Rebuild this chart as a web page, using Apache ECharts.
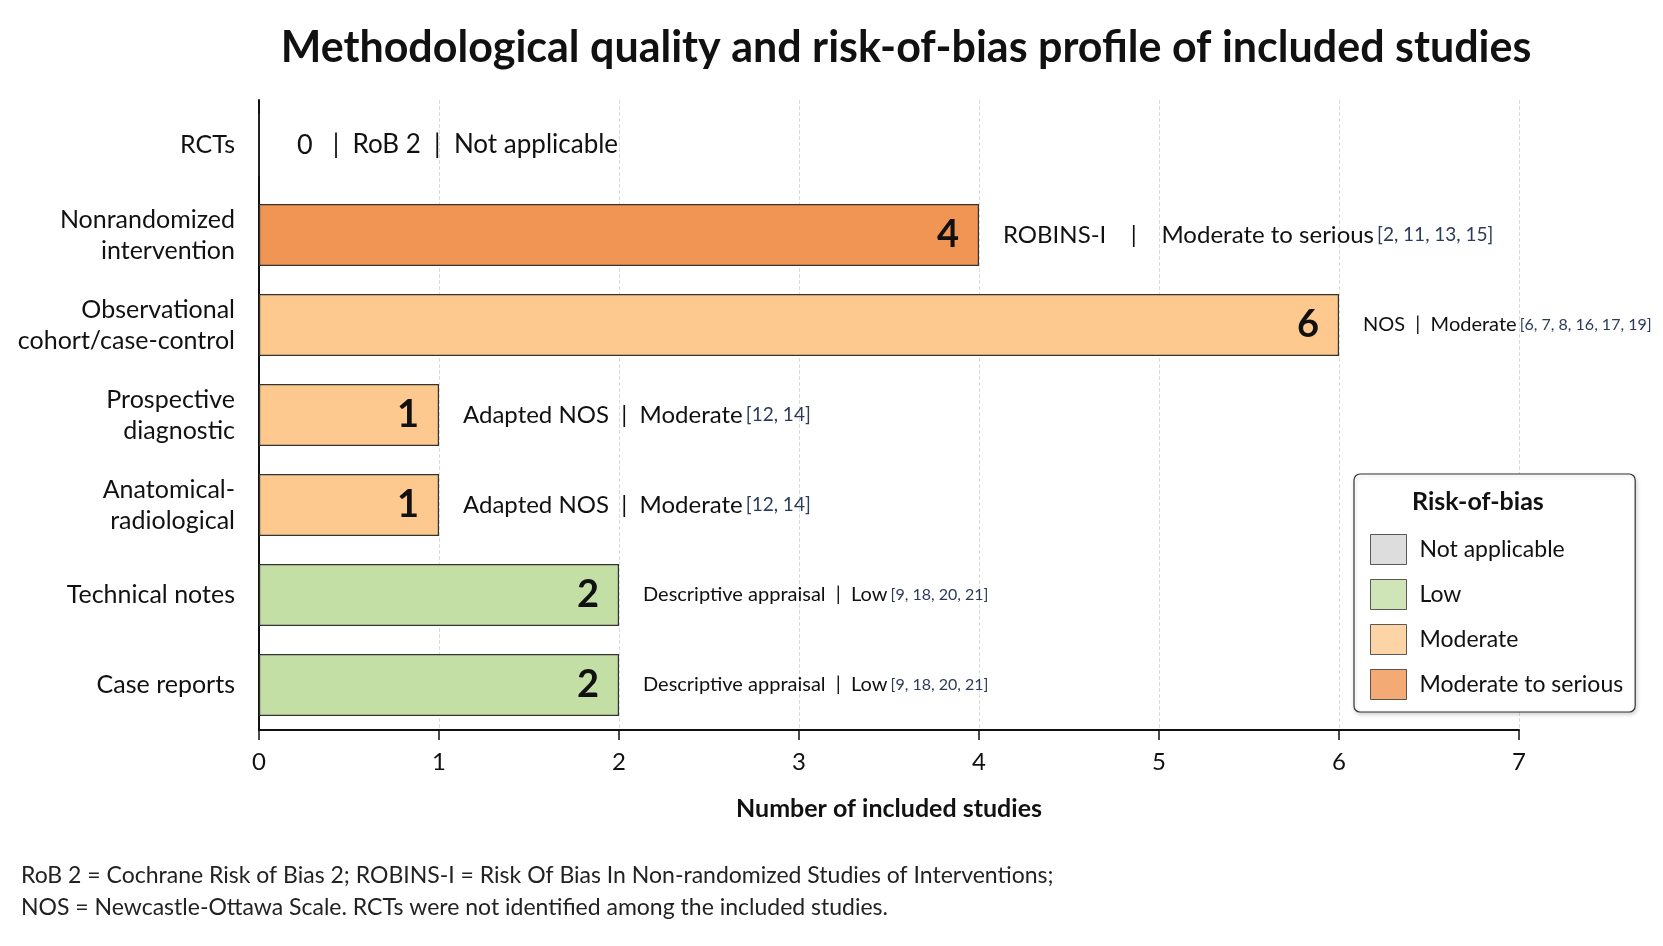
<!DOCTYPE html>
<html>
<head>
    <meta charset="UTF-8">
    <title>Risk-of-bias profile</title>
    <style>
        html, body { margin: 0; padding: 0; background: #ffffff; }
        #chart { width: 1663px; height: 946px; }
    </style>
</head>
<body>
    <div id="chart"></div>

    <script src="https://cdn.jsdelivr.net/npm/echarts@6/dist/echarts.min.js"></script>
    <script>
        // study designs, top to bottom
        var designs = ['RCTs', 'Nonrandomized\nintervention', 'Observational\ncohort/case-control',
            'Prospective\ndiagnostic', 'Anatomical-\nradiological', 'Technical notes', 'Case reports'];
        var studyCounts = [0, 4, 6, 1, 1, 2, 2];
        var appraisalTools = ['RoB 2', 'ROBINS-I', 'NOS', 'Adapted NOS', 'Adapted NOS',
            'Descriptive appraisal', 'Descriptive appraisal'];
        var riskOfBias = ['Not applicable', 'Moderate to serious', 'Moderate', 'Moderate', 'Moderate', 'Low', 'Low'];
        var references = ['', '[2, 11, 13, 15]', '[6, 7, 8, 16, 17, 19]', '[12, 14]', '[12, 14]',
            '[9, 18, 20, 21]', '[9, 18, 20, 21]'];
        var riskLevels = ['Not applicable', 'Low', 'Moderate', 'Moderate to serious'];
        var xTicks = [0, 7, 1];   // min, max, interval

        var riskColors = {
            'Not applicable': '#d4d4d4',
            'Low': '#c4dfa5',
            'Moderate': '#fdc98e',
            'Moderate to serious': '#f09553'
        };
        var font = 'Lato, "Open Sans", sans-serif';

        // compact label style for the longer annotations
        function isCompact(i) {
            return appraisalTools[i] === 'NOS' || appraisalTools[i] === 'Descriptive appraisal';
        }

        var barData = studyCounts.map(function (v, i) {
            return {
                value: v,
                itemStyle: { color: riskColors[riskOfBias[i]] },
                label: { show: v > 0 }
            };
        });

        var noteData = studyCounts.map(function (v) {
            return { value: v };
        });

        var legendSeries = riskLevels.map(function (name) {
            return {
                name: name,
                type: 'scatter',
                data: [],
                itemStyle: { color: riskColors[name] }
            };
        });

        var chart = echarts.init(document.getElementById('chart'), null, { renderer: 'canvas' });

        var option = {
            backgroundColor: '#ffffff',
            animation: false,
            textStyle: { fontFamily: font },
            title: {
                text: 'Methodological quality and risk-of-bias profile of included studies',
                left: 901,
                textAlign: 'center',
                top: 22,
                textStyle: { fontFamily: font, fontSize: 43, fontWeight: 'bold', color: '#111' }
            },
            grid: { left: 259, right: 144, top: 100, bottom: 216, containLabel: false },
            xAxis: {
                type: 'value',
                min: xTicks[0],
                max: xTicks[1],
                interval: xTicks[2],
                name: 'Number of included studies',
                nameLocation: 'middle',
                nameGap: 66,
                nameTextStyle: { fontFamily: font, fontSize: 25, fontWeight: 'bold', color: '#111' },
                axisLine: { show: true, lineStyle: { color: '#111', width: 2 } },
                axisTick: { show: true, length: 10, lineStyle: { color: '#111', width: 1.5 } },
                axisLabel: { fontFamily: font, fontSize: 24, color: '#111', margin: 20 },
                splitLine: { show: true, lineStyle: { color: '#dcdcdc', type: 'dashed', width: 1 } }
            },
            yAxis: {
                type: 'category',
                data: designs,
                inverse: true,
                axisLine: { show: true, lineStyle: { color: '#111', width: 2 } },
                axisTick: { show: false },
                axisLabel: { fontFamily: font, fontSize: 25, color: '#111', margin: 24, lineHeight: 31, align: 'right' },
                splitLine: { show: false }
            },
            legend: {
                data: riskLevels,
                orient: 'vertical',
                left: 1354,
                top: 474,
                icon: 'rect',
                itemWidth: 36,
                itemHeight: 30,
                itemGap: 14,
                padding: [60, 12, 12, 16],
                backgroundColor: '#ffffff',
                borderColor: '#333',
                borderWidth: 1.2,
                borderRadius: 6,
                shadowColor: 'rgba(0,0,0,0.18)',
                shadowBlur: 4,
                shadowOffsetX: 1,
                shadowOffsetY: 2,
                selectedMode: false,
                itemStyle: { borderColor: '#333', borderWidth: 1 },
                textStyle: { fontFamily: font, fontSize: 23, color: '#111', padding: [0, 0, 0, 8] }
            },
            series: [
                {
                    name: 'Studies',
                    type: 'bar',
                    data: barData,
                    barWidth: 62,
                    itemStyle: { borderColor: '#333', borderWidth: 1.2 },
                    label: {
                        position: 'insideRight',
                        distance: 20,
                        fontFamily: font,
                        fontSize: 38,
                        fontWeight: 'bold',
                        color: '#111'
                    },
                    z: 3
                },
                {
                    name: 'Notes',
                    type: 'bar',
                    data: noteData,
                    barWidth: 62,
                    barGap: '-100%',
                    itemStyle: { color: 'rgba(0,0,0,0)' },
                    silent: true,
                    label: {
                        show: true,
                        position: 'right',
                        distance: 24,
                        formatter: function (p) {
                            var i = p.dataIndex;
                            if (studyCounts[i] === 0) {
                                return '{n|' + studyCounts[i] + '}{z|   |  ' + appraisalTools[i] + '  |  ' + riskOfBias[i] + '}';
                            }
                            var sep = appraisalTools[i] === 'ROBINS-I' ? '    |    ' : '  |  ';
                            if (isCompact(i)) {
                                return '{ts|' + appraisalTools[i] + sep + riskOfBias[i] + '} {rs|' + references[i] + '}';
                            }
                            return '{t|' + appraisalTools[i] + sep + riskOfBias[i] + '} {r|' + references[i] + '}';
                        },
                        rich: {
                            n: { fontFamily: font, fontSize: 27, color: '#111', padding: [0, 0, 0, 14] },
                            z: { fontFamily: font, fontSize: 26, color: '#111' },
                            t: { fontFamily: font, fontSize: 24, color: '#111' },
                            r: { fontFamily: font, fontSize: 19, color: '#2b3a5c' },
                            ts: { fontFamily: font, fontSize: 20, color: '#111' },
                            rs: { fontFamily: font, fontSize: 16, color: '#2b3a5c' }
                        }
                    },
                    z: 4
                }
            ].concat(legendSeries),
            graphic: [
                {
                    type: 'text',
                    left: 1412,
                    top: 489,
                    z: 100,
                    style: {
                        text: 'Risk-of-bias',
                        fontFamily: font,
                        fontSize: 25,
                        fontWeight: 'bold',
                        fill: '#111'
                    }
                },
                {
                    type: 'text',
                    left: 21,
                    top: 860,
                    style: {
                        text: 'RoB 2 = Cochrane Risk of Bias 2; ROBINS-I = Risk Of Bias In Non-randomized Studies of Interventions;\nNOS = Newcastle-Ottawa Scale. RCTs were not identified among the included studies.',
                        fontFamily: font,
                        fontSize: 23,
                        lineHeight: 32,
                        fill: '#222'
                    }
                }
            ]
        };

        chart.setOption(option);
    </script>
</body>
</html>
